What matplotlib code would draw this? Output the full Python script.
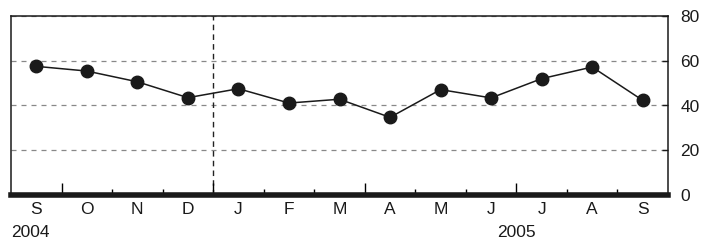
import numpy as np
import matplotlib
matplotlib.use('Agg')

import matplotlib.pyplot as plt

months = ["S", "O", "N", "D", "J", "F", "M", "A", "M", "J", "J", "A", "S"]
values = [57.5, 55.4, 50.6, 43.5, 47.5, 41.1, 42.8, 34.7, 47.1, 43.4, 52.0, 57.2, 42.3]
years = ["2004", "2005"]
y_ticks = [0, 20, 40, 60, 80]


def main():
    plt.rcParams['font.family'] = ['Liberation Sans', 'DejaVu Sans']
    fig = plt.figure(figsize=(7.16, 2.44), dpi=100)
    ax = fig.add_axes([11 / 716, 1 - 195 / 244, 657 / 716, 179 / 244])

    x = np.arange(len(months))

    # dashed grey grid lines
    for v in y_ticks[1:]:
        ax.axhline(v, color='#888888', lw=0.9, ls=(0, (4, 4)), zorder=1)

    # year boundary
    ax.axvline(3.5, color='#222222', lw=1.0, ls=(0, (4, 3)), zorder=1)

    ax.plot(x, values, color='#1a1a1a', lw=1.1, marker='o', markersize=9,
            markerfacecolor='#1a1a1a', markeredgecolor='#1a1a1a', zorder=3)

    ax.set_xlim(-0.5, len(months) - 0.5)
    ax.set_ylim(0, 80)

    # right-hand y axis
    ax.yaxis.tick_right()
    ax.set_yticks(y_ticks)
    ax.set_yticklabels([str(v) for v in y_ticks])
    ax.tick_params(axis='y', direction='in', length=4, width=1, pad=9,
                   labelsize=12.5, colors='#1a1a1a')

    # quarter ticks long, month ticks short, both pointing in
    ax.set_xticks([0.5, 3.5, 6.5, 9.5])
    ax.set_xticks([1.5, 2.5, 4.5, 5.5, 7.5, 8.5, 10.5, 11.5], minor=True)
    ax.set_xticklabels([])
    ax.tick_params(axis='x', which='major', direction='in', length=9, width=1)
    ax.tick_params(axis='x', which='minor', direction='in', length=4, width=1)

    for i, m in enumerate(months):
        ax.text(i, -6.4, m, ha='center', va='center', fontsize=12.5,
                color='#1a1a1a')
    ax.text(-0.5, -16.6, years[0], ha='left', va='center', fontsize=12.5,
            color='#1a1a1a')
    ax.text(9.5, -16.6, years[1], ha='center', va='center', fontsize=12.5,
            color='#1a1a1a')

    for s in ['left', 'right', 'top']:
        ax.spines[s].set_linewidth(1.1)
        ax.spines[s].set_color('#1a1a1a')
    ax.spines['bottom'].set_linewidth(4)
    ax.spines['bottom'].set_color('#1a1a1a')

    plt.savefig("out.png", dpi=100)


if __name__ == "__main__":
    main()
